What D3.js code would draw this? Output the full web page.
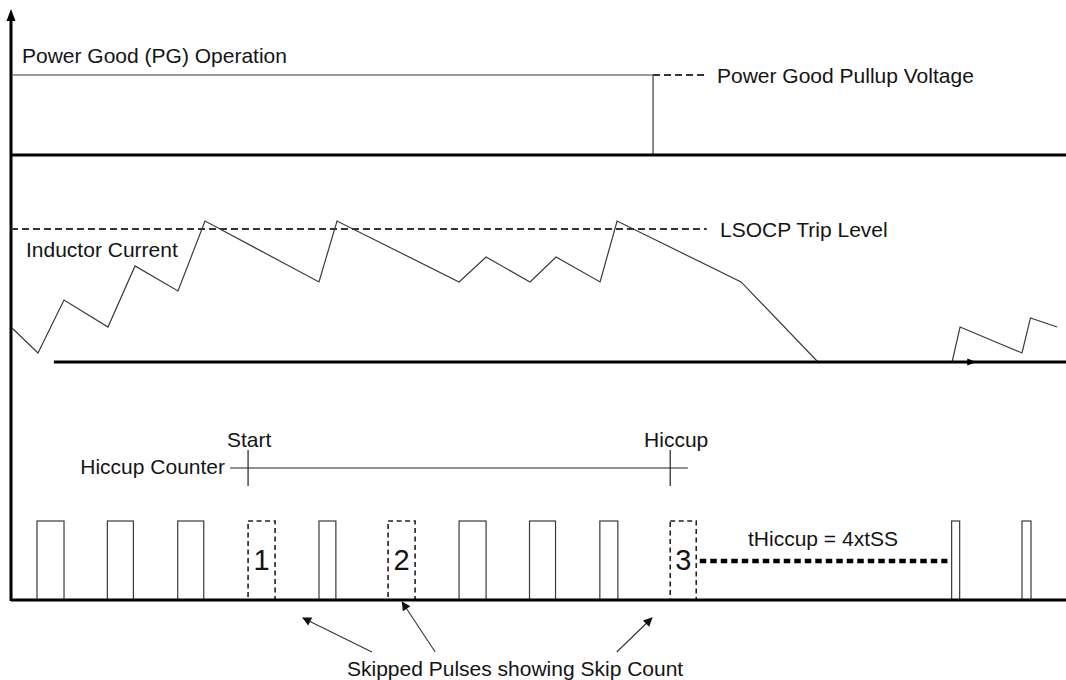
<!DOCTYPE html>
<html><head><meta charset="utf-8">
<script src="https://cdn.jsdelivr.net/npm/d3@7"></script>
<style>
body{margin:0;background:#fff}
svg{display:block}
text{font-family:"Liberation Sans",Arial,sans-serif;fill:#141414}
</style>
</head><body>
<svg id="c" width="1066" height="680"></svg>
<script>
// ---- data (time in switching periods, levels in arbitrary units) ----
const pgTimes = [0.63, 9.756, 9.756];
const pgLevels = [1, 1, 0];
const pgPullupSpan = [9.756, 10.5];

const tripLevel = 10;
const tripSpan = [0.63, 10.52];
const currentTimes  = [0.645, 1.014, 1.384, 2.009, 2.393, 3.004, 3.388, 5.008, 5.264, 6.999, 7.383, 8.008, 8.377, 9.003, 9.245, 11.007, 12.10];
const currentValues = [2.56, 0.68, 4.66, 2.63, 7.22, 5.34, 10.6, 6.02, 10.6, 6.02, 7.89, 6.02, 7.89, 6.02, 10.6, 6.02, 0];
const restartTimes  = [14.006, 14.12, 15.0, 15.12, 15.5];
const restartValues = [0, 2.63, 0.68, 3.31, 2.63];
const currentAxisSpan = [1.24, 15.65];
const currentAxisArrowAt = 14.35;

const pulseStarts = [1, 2, 3, 4, 5.008, 5.99, 6.999, 8.0, 9.0, 10.0, 14.0, 15.0];
const pulseWidths = [0.384, 0.37, 0.37, 0.384, 0.24, 0.384, 0.384, 0.37, 0.256, 0.37, 0.114, 0.128];
const skippedIndex = [3, 5, 9];
const skipLabels = ["1", "2", "3"];

const counterSpan = [3.745, 10.25];
const counterStart = 4.0;
const counterHiccup = 10.0;
const hiccupWaitSpan = [10.42, 13.94];

const annotationTips  = [4.78, 6.19, 9.74];
const annotationTails = [5.76, 6.66, 9.24];

// ---- scales ----
const W = 1066, H = 680;
const x = d3.scaleLinear().domain([1, 15]).range([37, 1022]);
const yPG = d3.scaleLinear().domain([0, 1]).range([155, 75]);
const yI = d3.scaleLinear().domain([0, 10]).range([362, 229]);
const yP = d3.scaleLinear().domain([0, 1]).range([600, 521]);

const svg = d3.select("#c");
const g = svg.append("g");
const thin = "#3a3a3a";

// vertical axis
g.append("line").attr("x1", 11).attr("x2", 11).attr("y1", 18).attr("y2", 601)
  .attr("stroke", "#000").attr("stroke-width", 3);
g.append("path").attr("d", "M11,9 L15.5,21 L6.5,21 Z").attr("fill", "#000");

// ---- Power good panel ----
const pgLine = d3.line().x((d, i) => x(pgTimes[i])).y((d, i) => yPG(pgLevels[i]));
g.append("path").attr("d", pgLine(pgTimes)).attr("fill", "none")
  .attr("stroke", thin).attr("stroke-width", 1.2);
g.append("line").attr("x1", x(pgPullupSpan[0])).attr("x2", x(pgPullupSpan[1]))
  .attr("y1", yPG(1)).attr("y2", yPG(1))
  .attr("stroke", "#333").attr("stroke-width", 1.8).attr("stroke-dasharray", "7 4");
g.append("line").attr("x1", 11).attr("x2", W).attr("y1", yPG(0)).attr("y2", yPG(0))
  .attr("stroke", "#000").attr("stroke-width", 3);
g.append("text").attr("x", 22).attr("y", 63).attr("font-size", 21).text("Power Good (PG) Operation");
g.append("text").attr("x", 717).attr("y", 83).attr("font-size", 21).text("Power Good Pullup Voltage");

// ---- Inductor current panel ----
g.append("line").attr("x1", x(tripSpan[0])).attr("x2", x(tripSpan[1]))
  .attr("y1", yI(tripLevel)).attr("y2", yI(tripLevel))
  .attr("stroke", "#333").attr("stroke-width", 1.8).attr("stroke-dasharray", "7 4");
const iLine = d3.line().x(d => x(d[0])).y(d => yI(d[1]));
g.append("path").attr("d", iLine(currentTimes.map((t, i) => [t, currentValues[i]])))
  .attr("fill", "none").attr("stroke", thin).attr("stroke-width", 1.2);
g.append("path").attr("d", iLine(restartTimes.map((t, i) => [t, restartValues[i]])))
  .attr("fill", "none").attr("stroke", thin).attr("stroke-width", 1.2);
g.append("line").attr("x1", x(currentAxisSpan[0])).attr("x2", W).attr("y1", yI(0)).attr("y2", yI(0))
  .attr("stroke", "#000").attr("stroke-width", 3);
g.append("path").attr("d", `M${x(currentAxisArrowAt)},${yI(0)} l-9,-3.5 l0,7 Z`).attr("fill", "#000");
g.append("text").attr("x", 26).attr("y", 257).attr("font-size", 21).text("Inductor Current");
g.append("text").attr("x", 720).attr("y", 237).attr("font-size", 21).text("LSOCP Trip Level");

// ---- Hiccup counter ----
const cy = 468;
g.append("line").attr("x1", x(counterSpan[0])).attr("x2", x(counterSpan[1])).attr("y1", cy).attr("y2", cy)
  .attr("stroke", "#222").attr("stroke-width", 1.2);
[counterStart, counterHiccup].forEach(t => {
  g.append("line").attr("x1", x(t)).attr("x2", x(t)).attr("y1", cy - 18).attr("y2", cy + 18)
    .attr("stroke", "#222").attr("stroke-width", 1.2);
});
g.append("text").attr("x", x(counterStart) + 1).attr("y", 447).attr("font-size", 21).attr("text-anchor", "middle").text("Start");
g.append("text").attr("x", x(counterHiccup) + 6).attr("y", 447).attr("font-size", 21).attr("text-anchor", "middle").text("Hiccup");
g.append("text").attr("x", 225).attr("y", 474).attr("font-size", 21).attr("text-anchor", "end").text("Hiccup Counter");

// ---- Pulses ----
pulseStarts.forEach((t, i) => {
  const sk = skippedIndex.indexOf(i);
  g.append("rect").attr("x", x(t)).attr("y", yP(1))
    .attr("width", x(t + pulseWidths[i]) - x(t)).attr("height", yP(0) - yP(1))
    .attr("fill", "none").attr("stroke", sk >= 0 ? "#222" : "#3a3a3a")
    .attr("stroke-width", sk >= 0 ? 1.6 : 1.2)
    .attr("stroke-dasharray", sk >= 0 ? "5 3.5" : null);
  if (sk >= 0) {
    g.append("text").attr("x", x(t + pulseWidths[i] / 2)).attr("y", yP(0.38))
      .attr("font-size", 29).attr("text-anchor", "middle").text(skipLabels[sk]);
  }
});
g.append("line").attr("x1", x(hiccupWaitSpan[0])).attr("x2", x(hiccupWaitSpan[1]))
  .attr("y1", 561).attr("y2", 561).attr("stroke", "#000").attr("stroke-width", 4.5)
  .attr("stroke-dasharray", "6.5 4");
g.append("text").attr("x", 748).attr("y", 546).attr("font-size", 21).text("tHiccup = 4xtSS");
g.append("line").attr("x1", 11).attr("x2", W).attr("y1", yP(0)).attr("y2", yP(0))
  .attr("stroke", "#000").attr("stroke-width", 3);

// ---- annotation ----
const defs = svg.append("defs");
defs.append("marker").attr("id", "ah").attr("viewBox", "0 0 10 10").attr("refX", 9).attr("refY", 5)
  .attr("markerWidth", 13).attr("markerHeight", 9).attr("markerUnits", "userSpaceOnUse").attr("orient", "auto")
  .append("path").attr("d", "M0,0 L10,5 L0,10 Z").attr("fill", "#111");
const tipY = [618, 602, 618];
annotationTips.forEach((t, i) => {
  g.append("line").attr("x1", x(annotationTails[i])).attr("y1", 652)
    .attr("x2", x(t)).attr("y2", tipY[i])
    .attr("stroke", "#333").attr("stroke-width", 1.1).attr("marker-end", "url(#ah)");
});
g.append("text").attr("x", 347).attr("y", 676).attr("font-size", 21).text("Skipped Pulses showing Skip Count");
</script>
</body></html>
